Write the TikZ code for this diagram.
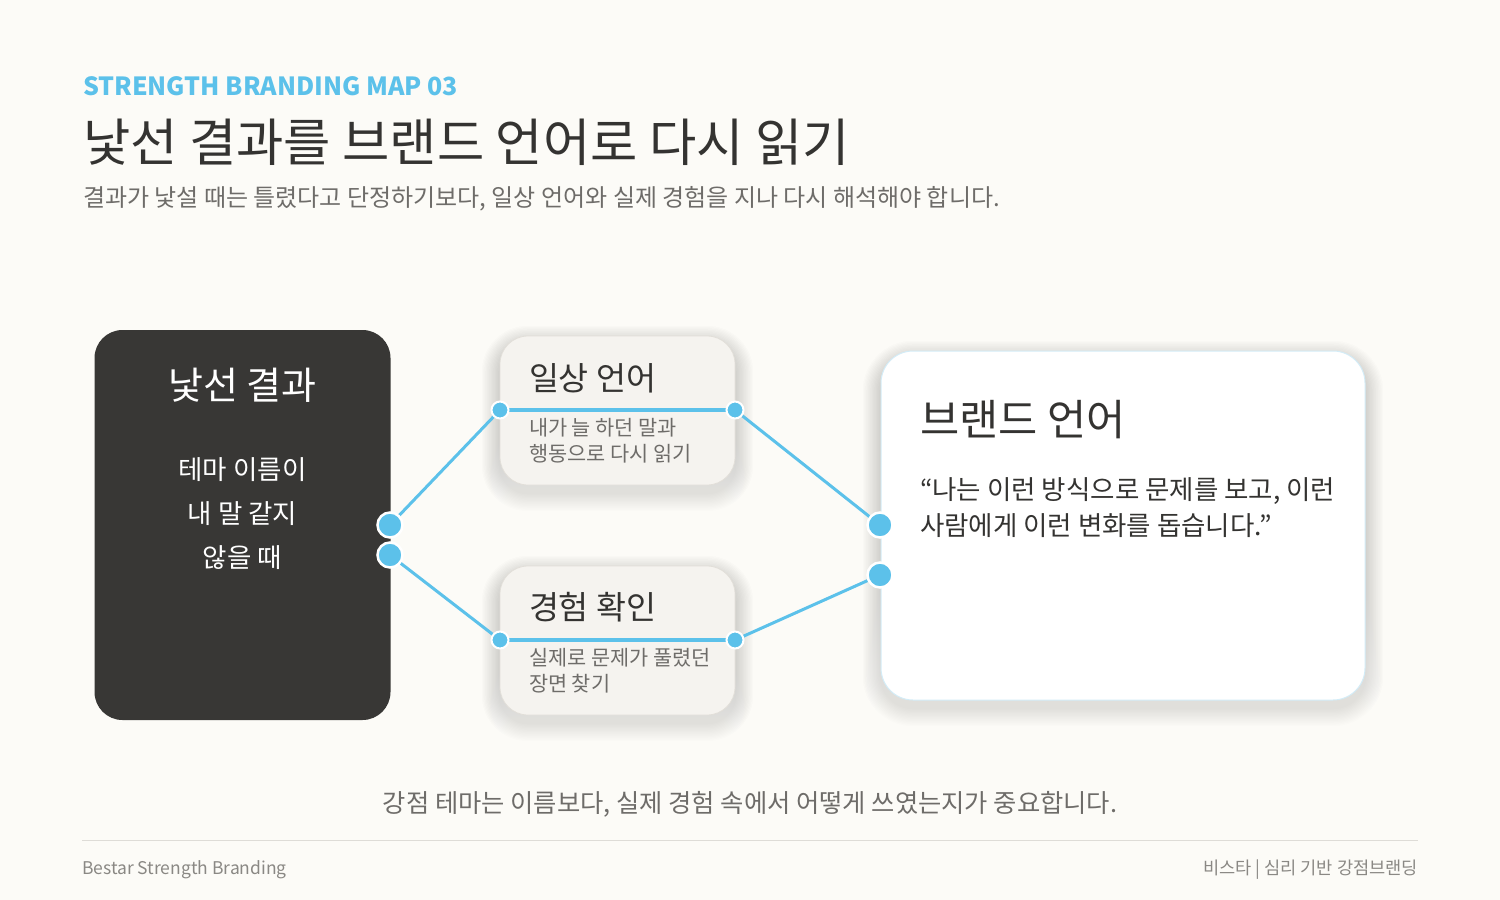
\documentclass[tikz,border=0pt]{standalone}
\usepackage{fontspec}
\setmainfont{Noto Sans CJK KR}
\definecolor{bg}{HTML}{FCFBF7}
\definecolor{accent}{HTML}{5CC1EA}
\definecolor{darkbox}{HTML}{383735}
\definecolor{ink}{HTML}{343331}
\definecolor{subgray}{HTML}{6E6C69}
\definecolor{midfill}{HTML}{F5F3EF}
\definecolor{midline}{HTML}{E2DFD9}
\definecolor{rightline}{HTML}{D3ECF7}
\definecolor{footgray}{HTML}{8A8884}
\definecolor{rule}{HTML}{DEDCD7}
\definecolor{shade}{HTML}{6B655A}
\tikzset{
  txt/.style={inner sep=0pt, outer sep=0pt},
  darkcard/.style={fill=darkbox, draw=none, rounded corners=28pt, inner sep=0pt},
  midcard/.style={fill=midfill, draw=midline, line width=0.8pt, rounded corners=28pt, inner sep=0pt},
  rightcard/.style={fill=white, draw=rightline, line width=1pt, rounded corners=32pt, inner sep=0pt},
  link/.style={draw=accent, line width=3pt},
  bar/.style={draw=accent, line width=4pt},
  bigdot/.style={circle, fill=accent, draw=white, line width=2.5pt, minimum size=25pt, inner sep=0pt},
  smalldot/.style={circle, fill=accent, draw=white, line width=2pt, minimum size=17pt, inner sep=0pt},
}
% soft shadow: x1,y1,x2,y2,radius
\newcommand{\softshadow}[5]{%
  \foreach \k in {1,...,14}{%
    \fill[shade, opacity=0.008, rounded corners=#5+\k*1.3]
      (#1-\k*1.3,#2-\k*1.3+8) rectangle (#3+\k*1.3,#4+\k*1.3+8);
  }%
}
\begin{document}
\begin{tikzpicture}[x=1pt,y=-1pt]
\fill[bg] (0,0) rectangle (1500,900);
\useasboundingbox (0,0) rectangle (1500,900);

% header
\node[txt, anchor=west, text=accent, font=\fontsize{25}{30}\selectfont\bfseries] (kicker) at (83,86) {STRENGTH BRANDING MAP 03};
\node[txt, anchor=west, text=ink, font=\fontsize{51.4}{60}\selectfont] (title) at (83,142) {낯선 결과를 브랜드 언어로 다시 읽기};
\node[txt, anchor=west, text=subgray, font=\fontsize{24}{30}\selectfont] (subtitle) at (83,199) {결과가 낯설 때는 틀렸다고 단정하기보다, 일상 언어와 실제 경험을 지나 다시 해석해야 합니다.};

% shadows
\softshadow{500}{336}{735}{485}{28}
\softshadow{500}{566}{735}{715}{28}
\softshadow{881}{351}{1365}{700}{32}

% left card
\node[darkcard, minimum width=296pt, minimum height=390pt] (res) at (242.5,525) {};
\node[txt, text=white, font=\fontsize{38}{44}\selectfont] (resT) at (242.5,385) {낯선 결과};
\node[txt, text=white, font=\fontsize{26.5}{44}\selectfont, align=center] (resB) at (242.5,514) {테마 이름이\\내 말 같지\\않을 때};

% middle cards
\node[midcard, minimum width=235pt, minimum height=149pt] (daily) at (617.5,410.5) {};
\node[txt, anchor=west, text=ink, font=\fontsize{32.6}{38}\selectfont] (dailyT) at (529,378) {일상 언어};
\node[txt, anchor=west, text=subgray, font=\fontsize{20.8}{26}\selectfont, align=left] (dailyB) at (529,441) {내가 늘 하던 말과\\행동으로 다시 읽기};

\node[midcard, minimum width=235pt, minimum height=149pt] (exp) at (617.5,640.5) {};
\node[txt, anchor=west, text=ink, font=\fontsize{32.6}{38}\selectfont] (expT) at (529,607) {경험 확인};
\node[txt, anchor=west, text=subgray, font=\fontsize{20.8}{26}\selectfont, align=left] (expB) at (529,671) {실제로 문제가 풀렸던\\장면 찾기};

% right card
\node[rightcard, minimum width=484pt, minimum height=349pt] (brand) at (1123,525.5) {};
\node[txt, anchor=west, text=ink, font=\fontsize{42.6}{50}\selectfont] (brandT) at (920,420) {브랜드 언어};
\node[txt, anchor=west, text=ink, font=\fontsize{26.5}{36}\selectfont, align=left] (brandB) at (920,508) {“나는 이런 방식으로 문제를 보고, 이런\\사람에게 이런 변화를 돕습니다.”};

% anchor points
\coordinate (L1) at (390,525);
\coordinate (L2) at (390,555);
\coordinate (T1) at (500,410);
\coordinate (T2) at (735,410);
\coordinate (B1) at (500,640);
\coordinate (B2) at (735,640);
\coordinate (R1) at (880,525);
\coordinate (R2) at (880,575);

% connectors
\draw[link] (L1) -- (T1);
\draw[link] (T2) -- (R1);
\draw[link] (L2) -- (B1);
\draw[link] (B2) -- (R2);
\draw[bar] (T1) -- (T2);
\draw[bar] (B1) -- (B2);

% dots
\node[bigdot] (dL1) at (L1) {};
\node[bigdot] (dL2) at (L2) {};
\node[bigdot] (dR1) at (R1) {};
\node[bigdot] (dR2) at (R2) {};
\node[smalldot] (dT1) at (T1) {};
\node[smalldot] (dT2) at (T2) {};
\node[smalldot] (dB1) at (B1) {};
\node[smalldot] (dB2) at (B2) {};

% footer
\node[txt, text=subgray, font=\fontsize{25.3}{30}\selectfont] (note) at (750,804) {강점 테마는 이름보다, 실제 경험 속에서 어떻게 쓰였는지가 중요합니다.};
\coordinate (ruleA) at (82,840);
\coordinate (ruleB) at (1418,840);
\draw[rule, line width=0.8pt] (ruleA) -- (ruleB);
\node[txt, anchor=west, text=footgray, font=\fontsize{17.5}{20}\selectfont] (footL) at (82,870) {Bestar Strength Branding};
\node[txt, anchor=east, text=footgray, font=\fontsize{17.6}{20}\selectfont] (footR) at (1418,870) {비스타 | 심리 기반 강점브랜딩};
\end{tikzpicture}
\end{document}
